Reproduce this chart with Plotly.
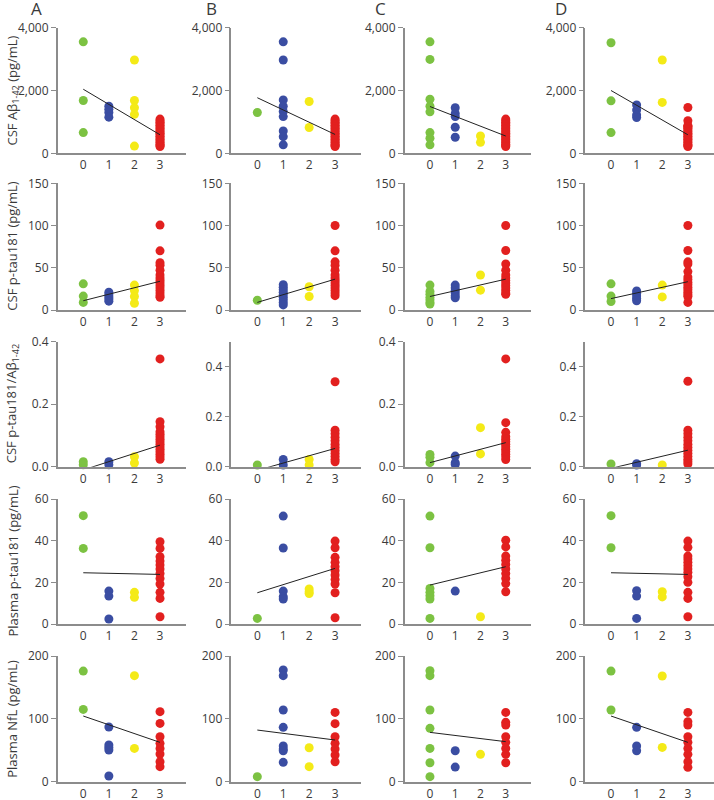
import plotly.graph_objects as go

# colours per group on the x axis (0, 1, 2, 3)
GREEN = "#7cc242"
BLUE = "#3a4da2"
YELLOW = "#f4ea17"
RED = "#e2201f"
group_colors = [GREEN, BLUE, YELLOW, RED]

col_letters = ["A", "B", "C", "D"]
row_titles = [
    "CSF Aβ<sub>1-42</sub> (pg/mL)",
    "CSF p-tau181 (pg/mL)",
    "CSF p-tau181/Aβ<sub>1-42</sub>",
    "Plasma p-tau181 (pg/mL)",
    "Plasma NfL (pg/mL)",
]

# ---- row 1: CSF Abeta 1-42 ----
abeta_red = [1090, 1040, 990, 940, 890, 840, 790, 740, 690, 640, 590, 540,
             490, 440, 390, 340, 290, 250, 215]
abeta_A = [[3550, 1680, 660], [1500, 1400, 1300, 1150],
           [2970, 1680, 1450, 1240, 230], abeta_red]
abeta_B = [[1300], [3550, 2970, 1700, 1500, 1330, 1170, 710, 530, 270],
           [1650, 820], abeta_red]
abeta_C = [[3550, 2990, 1720, 1500, 1320, 660, 480, 270],
           [1450, 1270, 1170, 830, 510], [550, 350], abeta_red]
abeta_D = [[3520, 1670, 660], [1540, 1380, 1220, 1140], [2970, 1620],
           [1460, 1040, 850] + abeta_red[4:]]
abeta_fit = [(2040, 590), (1770, 600), (1490, 550), (2000, 590)]

# ---- row 2: CSF p-tau181 ----
ptau_A = [[31, 16.5, 9], [21, 18, 15.5, 13, 10.5],
          [29.5, 23, 16, 8],
          [100.5, 70, 56, 53, 47, 41.5, 38, 35, 32, 29, 26, 23, 20, 17, 15]]
ptau_B = [[11.5], [30, 27, 24, 21, 18, 15, 12, 9, 6],
          [27.5, 16],
          [100, 70, 57, 53, 47, 41.5, 38, 35, 32, 29, 26, 23, 20, 17]]
ptau_C = [[29.5, 22, 18.5, 15, 12, 9, 7], [29.5, 26, 23, 20, 17, 14.5],
          [41.5, 23.5],
          [100, 70.5, 54.5, 47, 41.5, 38, 35, 32, 29, 26, 23, 20, 18.5]]
ptau_D = [[31, 16.5, 10], [22.5, 19.5, 16.5, 13.5, 11], [29.5, 15.5],
          [100, 70.5, 57, 54.5, 45.5, 39, 36, 33, 30, 27, 24, 21, 18, 16, 9]]
ptau_fit = [(11, 34), (9, 36.5), (16, 36.5), (13.5, 33.5)]

# ---- row 3: CSF p-tau181 / Abeta 1-42 ----
ratio_red = [0.345, 0.144, 0.128, 0.112, 0.104, 0.096, 0.088, 0.080, 0.072,
             0.064, 0.056, 0.048, 0.040, 0.032, 0.024]
ratio_A = [[0.016, 0.006], [0.016, 0.006], [0.032, 0.012], ratio_red]
ratio_B = [[0.007], [0.029, 0.007], [0.029, 0.007],
           [0.340, 0.146, 0.132, 0.118, 0.104, 0.090, 0.078, 0.066, 0.054,
            0.042, 0.030, 0.020]]
ratio_C = [[0.039, 0.030, 0.013], [0.034, 0.013, 0.007], [0.125, 0.041],
           [0.345, 0.141, 0.110, 0.096, 0.088, 0.080, 0.072, 0.064, 0.056,
            0.048, 0.040, 0.032, 0.023]]
ratio_D = [[0.011], [0.012, 0.007], [0.007],
           [0.342, 0.146, 0.132, 0.118, 0.104, 0.090, 0.078, 0.066, 0.054,
            0.042, 0.030, 0.020, 0.011]]
ratio_fit = [(-0.0103, 0.069), (-0.0146, 0.073), (0.013, 0.077), (-0.0065, 0.066)]

# ---- row 4: plasma p-tau181 ----
pptau_A = [[52, 36.3], [15.8, 13.4, 2.4], [15.2, 12.8],
           [39.5, 36.3, 32.3, 30.2, 28.3, 26.4, 24.3, 21.9, 19.2, 15.2, 12.3, 3.5]]
pptau_B = [[2.7], [51.8, 36.5, 15.8, 13.1, 12], [16.8, 15.5, 14.6],
           [39.8, 36.6, 32, 29.6, 27.5, 25.6, 23.5, 21.4, 19.2, 15, 3]]
pptau_C = [[51.8, 36.6, 17.1, 15.2, 13.6, 12, 2.7], [15.8], [3.5],
           [40.2, 37, 32.6, 30.6, 28.6, 26.4, 24.2, 21.9, 19.4, 15.5]]
pptau_D = [[52, 36.6], [16, 13.4, 2.7], [15.5, 13],
           [39.8, 36.8, 32.6, 31.2, 29.6, 28, 26.4, 24.8, 22.7, 20, 15.2, 12.3, 3.5]]
pptau_fit = [(24.6, 23.8), (15, 26.7), (18.7, 27.5), (24.6, 23.8)]

# ---- row 5: plasma NfL ----
nfl_A = [[176, 115], [87, 58.4, 54.6, 50.4, 9], [168.7, 53],
         [111.4, 92.8, 71.6, 61, 53, 44, 31.8, 23.9]]
nfl_B = [[8], [177.7, 168.7, 114, 86.5, 56.8, 52, 49.3, 30.8], [54.1, 23.9],
         [110.3, 92.3, 71.6, 61, 52, 42.4, 31.8]]
nfl_C = [[176.7, 168.7, 114, 84.9, 53, 30.2, 8], [49.3, 23.3], [43.5],
         [110.3, 94.4, 90.2, 71.6, 62.6, 53, 43.5, 30.2]]
nfl_D = [[176, 114], [86.5, 56.8, 49.3], [168.2, 54.6],
         [110.3, 95.5, 90.2, 71.6, 62.6, 53, 43.5, 31.8, 22.8]]
nfl_fit = [(104.5, 62.6), (82.2, 66.3), (78.5, 63.7), (104.5, 62.6)]

rows = [
    ([abeta_A, abeta_B, abeta_C, abeta_D], abeta_fit),
    ([ptau_A, ptau_B, ptau_C, ptau_D], ptau_fit),
    ([ratio_A, ratio_B, ratio_C, ratio_D], ratio_fit),
    ([pptau_A, pptau_B, pptau_C, pptau_D], pptau_fit),
    ([nfl_A, nfl_B, nfl_C, nfl_D], nfl_fit),
]

y_ranges = [
    [[0, 4000]] * 4,
    [[0, 150]] * 4,
    [[0, 0.4], [0, 0.5], [0, 0.4], [0, 0.5]],
    [[0, 60]] * 4,
    [[0, 200]] * 4,
]
y_ticks = [[0, 2000, 4000], [0, 50, 100, 150], [0, 0.2, 0.4],
           [0, 20, 40, 60], [0, 100, 200]]
y_formats = [",d", "d", ".1f", "d", "d"]
x_ticks = [0, 1, 2, 3]

# panel placement in page pixels (714 x 800)
W, H = 714, 800
col_px = [(57.7, 185.6), (231.4, 361), (404.7, 531), (585.4, 713.5)]
row_px = [(27.7, 153.3), (183.3, 310), (341.7, 466.7), (499, 624), (656, 781.7)]

AXIS_COLOR = "#8c8c8c"
TEXT_COLOR = "#3a3a3a"
FONT = "Open Sans"

fig = go.Figure()
n = 0
for r, (panels, fits) in enumerate(rows):
    for c in range(4):
        n += 1
        xa = "x" if n == 1 else f"x{n}"
        ya = "y" if n == 1 else f"y{n}"
        groups = panels[c]
        for g, vals in enumerate(groups):
            fig.add_trace(go.Scatter(
                x=[g] * len(vals), y=vals, mode="markers",
                marker=dict(color=group_colors[g], size=9, line=dict(width=0)),
                xaxis=xa, yaxis=ya, showlegend=False, cliponaxis=False))
        y0, y3 = fits[c]
        fig.add_trace(go.Scatter(
            x=[0, 3], y=[y0, y3], mode="lines",
            line=dict(color="#222222", width=1),
            xaxis=xa, yaxis=ya, showlegend=False))

        x0, x1 = col_px[c]
        top, bot = row_px[r]
        xkey = "xaxis" if n == 1 else f"xaxis{n}"
        ykey = "yaxis" if n == 1 else f"yaxis{n}"
        fig.update_layout({
            xkey: dict(domain=[x0 / W, min(x1 / W, 1)], range=[-1, 4], anchor=ya,
                       tickvals=x_ticks, ticks="", showgrid=False,
                       zeroline=False, showline=True, linecolor=AXIS_COLOR,
                       linewidth=1.5, tickfont=dict(size=12, color=TEXT_COLOR),
                       automargin=False, fixedrange=True),
            ykey: dict(domain=[1 - bot / H, 1 - top / H], range=y_ranges[r][c],
                       anchor=xa, tickvals=y_ticks[r], tickformat=y_formats[r],
                       ticks="outside", ticklen=5, tickcolor=AXIS_COLOR,
                       tickwidth=1.2, showgrid=False, zeroline=False,
                       showline=True, linecolor=AXIS_COLOR, linewidth=1.5,
                       tickfont=dict(size=12, color=TEXT_COLOR),
                       automargin=False, fixedrange=True),
        })

annotations = []
letter_x = [36, 211, 380, 561]
for c, letter in enumerate(col_letters):
    annotations.append(dict(text=letter, x=letter_x[c] / W, y=1 - 9 / H,
                            xref="paper", yref="paper", showarrow=False,
                            font=dict(size=17, color=TEXT_COLOR, family=FONT),
                            xanchor="center", yanchor="middle"))
for r, title in enumerate(row_titles):
    top, bot = row_px[r]
    annotations.append(dict(text=title, x=12 / W, y=1 - (top + bot) / 2 / H,
                            xref="paper", yref="paper", showarrow=False,
                            textangle=-90,
                            font=dict(size=13, color=TEXT_COLOR, family=FONT),
                            xanchor="center", yanchor="middle"))

fig.update_layout(
    width=W, height=H,
    margin=dict(l=0, r=0, t=0, b=0, autoexpand=False),
    paper_bgcolor="white", plot_bgcolor="white",
    font=dict(family=FONT, color=TEXT_COLOR),
    annotations=annotations,
)

# drop the browser's default body margin so the figure sits at the top-left corner
fig.write_html("out.html", config={"displayModeBar": False},
               post_script="document.body.style.margin = '0';")
